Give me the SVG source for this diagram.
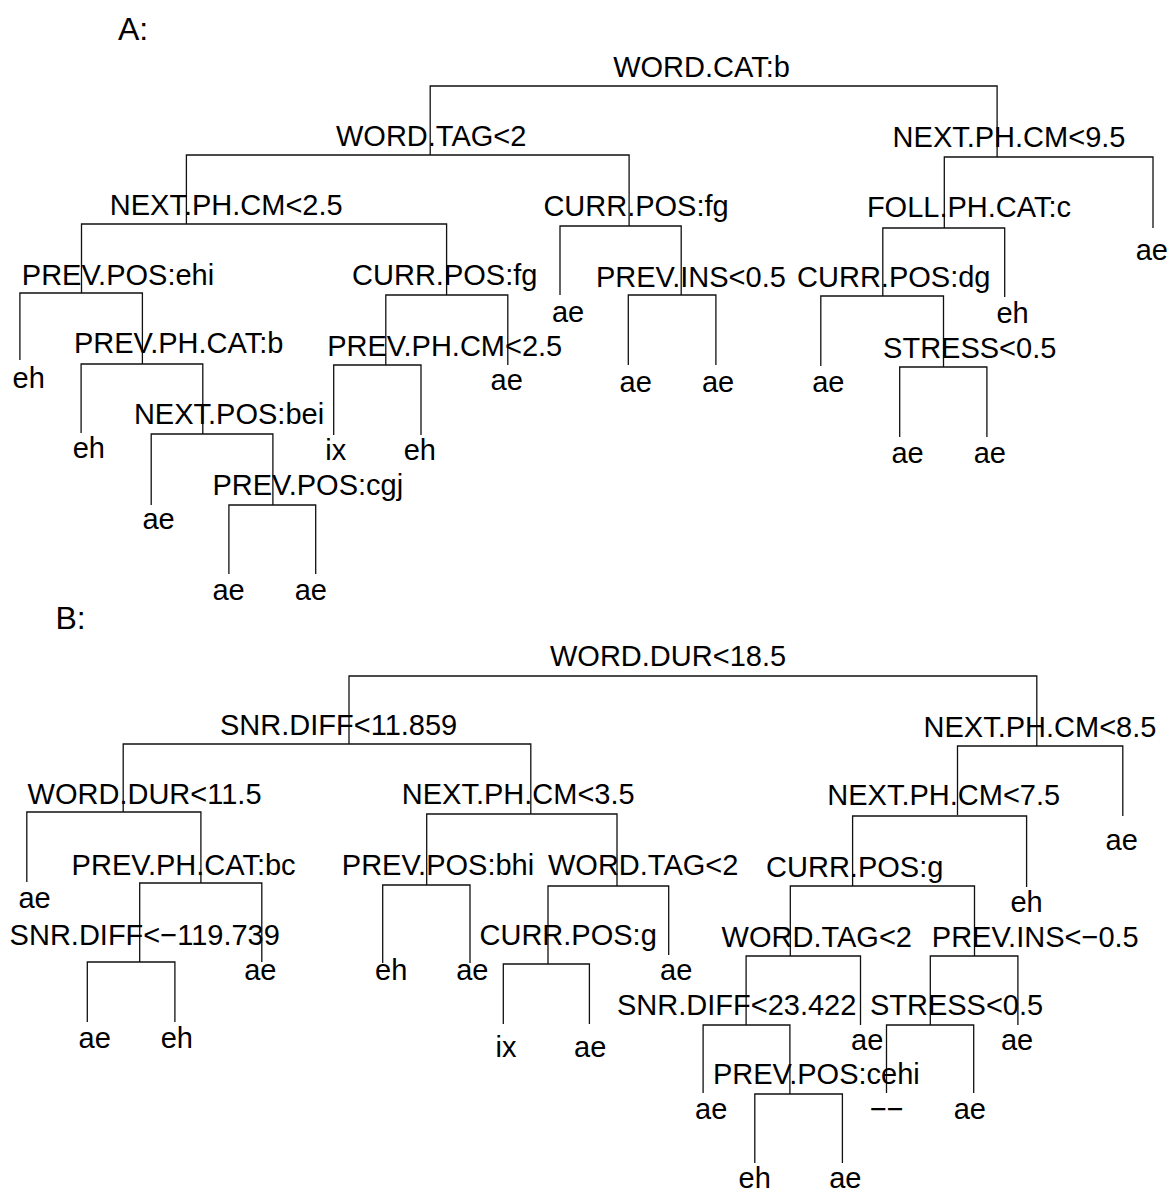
<svg xmlns="http://www.w3.org/2000/svg" width="1172" height="1191" viewBox="0 0 1172 1191">
  <style>
    text { font-family: "Liberation Sans", Arial, Helvetica, sans-serif; fill: #000; }
    .lbl { font-size: 29px; }
    .title { font-size: 32px; }
    .edge { fill: none; stroke: #111; stroke-width: 1.3; }
  </style>
  <rect width="1172" height="1191" fill="#fff"/>

  <!-- tree branches: each split drawn as an inverted U down to its children -->
  <g id="connectors">
    <!-- tree A -->
    <path class="edge" d="M430.2,155 V86 H997.1 V157"/>
    <path class="edge" d="M186.4,224 V155 H629.1 V226"/>
    <path class="edge" d="M81.5,293 V224 H446.6 V295"/>
    <path class="edge" d="M19.9,360 V293 H142.4 V364"/>
    <path class="edge" d="M81.1,433 V364 H202.8 V434"/>
    <path class="edge" d="M151.2,505 V434 H272.9 V505"/>
    <path class="edge" d="M228.9,574 V505 H315.7 V574"/>
    <path class="edge" d="M385.8,365 V295 H507.8 V365"/>
    <path class="edge" d="M333.7,435 V365 H421 V435"/>
    <path class="edge" d="M560,295 V226 H681.2 V295"/>
    <path class="edge" d="M628.3,365 V295 H715.9 V365"/>
    <path class="edge" d="M944.3,228 V157 H1153 V228"/>
    <path class="edge" d="M882.8,296 V228 H1004.7 V297"/>
    <path class="edge" d="M820.8,366 V296 H943.5 V367"/>
    <path class="edge" d="M899.7,437 V367 H986.9 V437"/>
    <!-- tree B -->
    <path class="edge" d="M349,744 V676 H1036.8 V746"/>
    <path class="edge" d="M123.2,812 V744 H530.8 V814"/>
    <path class="edge" d="M26.8,882 V812 H200.9 V883"/>
    <path class="edge" d="M139.7,962 V883 H261.8 V962"/>
    <path class="edge" d="M87.3,1022 V962 H174.9 V1022"/>
    <path class="edge" d="M426.7,885 V814 H617 V886"/>
    <path class="edge" d="M382.7,963 V885 H470 V963"/>
    <path class="edge" d="M548,964 V886 H668.7 V955"/>
    <path class="edge" d="M503.3,1024 V964 H589.4 V1024"/>
    <path class="edge" d="M957.5,815 V746 H1122.8 V816"/>
    <path class="edge" d="M852.6,886 V816 H1026.6 V887"/>
    <path class="edge" d="M790.3,956 V886 H974.5 V956"/>
    <path class="edge" d="M746.1,1025 V956 H860.5 V1025"/>
    <path class="edge" d="M703.1,1093 V1025 H789.9 V1094"/>
    <path class="edge" d="M754.8,1163 V1094 H842.4 V1163"/>
    <path class="edge" d="M930.3,1025 V956 H1017.9 V1025"/>
    <path class="edge" d="M886.5,1093 V1025 H973.7 V1093"/>
  </g>

  <text class="title" x="118" y="40">A:</text>
  <text class="title" x="55.5" y="629">B:</text>

  <!-- tree A splits -->
  <g id="a-word-cat"><text class="lbl" x="613.2" y="77.3">WORD.CAT:b</text></g>
  <g id="a-word-tag"><text class="lbl" x="336" y="145.7">WORD.TAG&lt;2</text></g>
  <g id="a-next-ph-cm-2-5"><text class="lbl" x="109.8" y="215.3">NEXT.PH.CM&lt;2.5</text></g>
  <g id="a-prev-pos-ehi"><text class="lbl" x="21.8" y="285">PREV.POS:ehi</text></g>
  <g id="a-prev-ph-cat-b"><text class="lbl" x="73.9" y="353.3">PREV.PH.CAT:b</text></g>
  <g id="a-next-pos-bei"><text class="lbl" x="133.9" y="424">NEXT.POS:bei</text></g>
  <g id="a-prev-pos-cgj"><text class="lbl" x="212.4" y="495">PREV.POS:cgj</text></g>
  <g id="a-curr-pos-fg-1"><text class="lbl" x="352.1" y="285">CURR.POS:fg</text></g>
  <g id="a-prev-ph-cm"><text class="lbl" x="327.2" y="356">PREV.PH.CM&lt;2.5</text></g>
  <g id="a-curr-pos-fg-2"><text class="lbl" x="543.4" y="216">CURR.POS:fg</text></g>
  <g id="a-prev-ins"><text class="lbl" x="595.9" y="286.7">PREV.INS&lt;0.5</text></g>
  <g id="a-next-ph-cm-9-5"><text class="lbl" x="892.6" y="146.7">NEXT.PH.CM&lt;9.5</text></g>
  <g id="a-foll-ph-cat"><text class="lbl" x="866.9" y="216.7">FOLL.PH.CAT:c</text></g>
  <g id="a-curr-pos-dg"><text class="lbl" x="797.1" y="286.7">CURR.POS:dg</text></g>
  <g id="a-stress"><text class="lbl" x="883.1" y="357.7">STRESS&lt;0.5</text></g>

  <!-- tree A leaves -->
  <g id="a-leaf-1"><text class="lbl" x="12.6" y="388.3">eh</text></g>
  <g id="a-leaf-2"><text class="lbl" x="72.7" y="458.3">eh</text></g>
  <g id="a-leaf-3"><text class="lbl" x="142.4" y="529.3">ae</text></g>
  <g id="a-leaf-4"><text class="lbl" x="212.4" y="600">ae</text></g>
  <g id="a-leaf-5"><text class="lbl" x="294.7" y="600">ae</text></g>
  <g id="a-leaf-6"><text class="lbl" x="325.3" y="460">ix</text></g>
  <g id="a-leaf-7"><text class="lbl" x="403.7" y="460">eh</text></g>
  <g id="a-leaf-8"><text class="lbl" x="490.6" y="390">ae</text></g>
  <g id="a-leaf-9"><text class="lbl" x="551.9" y="321.7">ae</text></g>
  <g id="a-leaf-10"><text class="lbl" x="619.6" y="391.7">ae</text></g>
  <g id="a-leaf-11"><text class="lbl" x="701.9" y="391.7">ae</text></g>
  <g id="a-leaf-12"><text class="lbl" x="812.2" y="391.7">ae</text></g>
  <g id="a-leaf-13"><text class="lbl" x="891.4" y="462.7">ae</text></g>
  <g id="a-leaf-14"><text class="lbl" x="973.7" y="462.7">ae</text></g>
  <g id="a-leaf-15"><text class="lbl" x="996.4" y="323.3">eh</text></g>
  <g id="a-leaf-16"><text class="lbl" x="1135.7" y="260">ae</text></g>

  <!-- tree B splits -->
  <g id="b-word-dur-18-5"><text class="lbl" x="550" y="665.5">WORD.DUR&lt;18.5</text></g>
  <g id="b-snr-diff-11"><text class="lbl" x="220" y="735">SNR.DIFF&lt;11.859</text></g>
  <g id="b-word-dur-11-5"><text class="lbl" x="27.6" y="804">WORD.DUR&lt;11.5</text></g>
  <g id="b-prev-ph-cat"><text class="lbl" x="71.6" y="875">PREV.PH.CAT:bc</text></g>
  <g id="b-snr-diff-119"><text class="lbl" x="9.6" y="945">SNR.DIFF&lt;−119.739</text></g>
  <g id="b-next-ph-cm-3-5"><text class="lbl" x="401.8" y="804">NEXT.PH.CM&lt;3.5</text></g>
  <g id="b-prev-pos-bhi"><text class="lbl" x="341.8" y="875">PREV.POS:bhi</text></g>
  <g id="b-word-tag-1"><text class="lbl" x="548" y="875">WORD.TAG&lt;2</text></g>
  <g id="b-curr-pos-g-1"><text class="lbl" x="479.5" y="945">CURR.POS:g</text></g>
  <g id="b-next-ph-cm-8-5"><text class="lbl" x="923.5" y="736.7">NEXT.PH.CM&lt;8.5</text></g>
  <g id="b-next-ph-cm-7-5"><text class="lbl" x="827.3" y="805">NEXT.PH.CM&lt;7.5</text></g>
  <g id="b-curr-pos-g-2"><text class="lbl" x="766.1" y="876.7">CURR.POS:g</text></g>
  <g id="b-word-tag-2"><text class="lbl" x="721.6" y="946.7">WORD.TAG&lt;2</text></g>
  <g id="b-snr-diff-23"><text class="lbl" x="617" y="1015">SNR.DIFF&lt;23.422</text></g>
  <g id="b-prev-pos-cehi"><text class="lbl" x="712.9" y="1084">PREV.POS:cehi</text></g>
  <g id="b-prev-ins"><text class="lbl" x="931.8" y="946.7">PREV.INS&lt;−0.5</text></g>
  <g id="b-stress"><text class="lbl" x="869.9" y="1015">STRESS&lt;0.5</text></g>

  <!-- tree B leaves -->
  <g id="b-leaf-1"><text class="lbl" x="18.4" y="908.3">ae</text></g>
  <g id="b-leaf-2"><text class="lbl" x="244.2" y="980">ae</text></g>
  <g id="b-leaf-3"><text class="lbl" x="78.5" y="1048.3">ae</text></g>
  <g id="b-leaf-4"><text class="lbl" x="160.7" y="1048.3">eh</text></g>
  <g id="b-leaf-5"><text class="lbl" x="375" y="980">eh</text></g>
  <g id="b-leaf-6"><text class="lbl" x="456.2" y="980">ae</text></g>
  <g id="b-leaf-7"><text class="lbl" x="495.6" y="1056.7">ix</text></g>
  <g id="b-leaf-8"><text class="lbl" x="574" y="1056.7">ae</text></g>
  <g id="b-leaf-9"><text class="lbl" x="660" y="980">ae</text></g>
  <g id="b-leaf-10"><text class="lbl" x="1105.5" y="850">ae</text></g>
  <g id="b-leaf-11"><text class="lbl" x="1010.4" y="911.7">eh</text></g>
  <g id="b-leaf-12"><text class="lbl" x="851" y="1050">ae</text></g>
  <g id="b-leaf-13"><text class="lbl" x="695.1" y="1119.3">ae</text></g>
  <g id="b-leaf-14"><text class="lbl" x="738.5" y="1187.5">eh</text></g>
  <g id="b-leaf-15"><text class="lbl" x="829.2" y="1187.5">ae</text></g>
  <g id="b-leaf-16"><text class="lbl" x="1000.9" y="1050">ae</text></g>
  <g id="b-leaf-17"><text class="lbl" x="869.9" y="1119.3">−−</text></g>
  <g id="b-leaf-18"><text class="lbl" x="953.7" y="1119.3">ae</text></g>
</svg>
